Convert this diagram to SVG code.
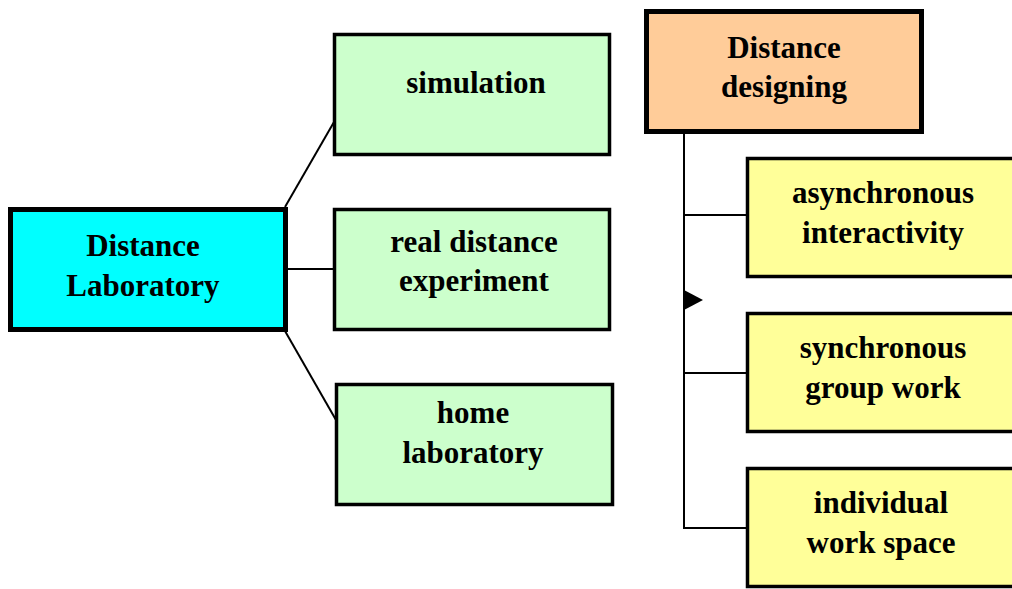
<svg xmlns="http://www.w3.org/2000/svg" width="1012" height="589" viewBox="0 0 1012 589">
<style>
.t{font-family:"Liberation Serif","Times New Roman",serif;font-weight:bold;font-size:31px;fill:#000;text-anchor:middle}
.thick{stroke:#000;stroke-width:5}
.thin{stroke:#000;stroke-width:3.5}
.c{stroke:#000;stroke-width:2;fill:none}
</style>
<rect width="1012" height="589" fill="#fff"/>
<g id="connectors">
<line class="c" x1="285" y1="207" x2="334" y2="122"/>
<line class="c" x1="288" y1="269" x2="334" y2="269"/>
<line class="c" x1="285" y1="331" x2="336" y2="420"/>
<polyline class="c" points="684,134 684,528 746,528"/>
<line class="c" x1="684" y1="215" x2="746" y2="215"/>
<line class="c" x1="684" y1="373" x2="746" y2="373"/>
<polygon points="684,290 703,300 684,310" fill="#000"/>
</g>
<g id="distance-laboratory">
<rect class="thick" x="10.5" y="209.5" width="275" height="120" fill="#00FFFF"/>
<text class="t" x="143" y="256">Distance</text>
<text class="t" x="143" y="296">Laboratory</text>
</g>
<g id="simulation">
<rect class="thin" x="334.5" y="34.5" width="275" height="120" fill="#CCFFCC"/>
<text class="t" x="476" y="93">simulation</text>
</g>
<g id="real-distance-experiment">
<rect class="thin" x="334.5" y="209.5" width="275" height="120" fill="#CCFFCC"/>
<text class="t" x="474" y="252">real distance</text>
<text class="t" x="474" y="291">experiment</text>
</g>
<g id="home-laboratory">
<rect class="thin" x="336.5" y="384.5" width="276" height="120" fill="#CCFFCC"/>
<text class="t" x="473" y="423">home</text>
<text class="t" x="473" y="463">laboratory</text>
</g>
<g id="distance-designing">
<rect class="thick" x="646.5" y="11.5" width="275" height="120" fill="#FFCC99"/>
<text class="t" x="784" y="58">Distance</text>
<text class="t" x="784" y="97">designing</text>
</g>
<g id="asynchronous-interactivity">
<rect class="thin" x="747.5" y="158.5" width="280" height="118" fill="#FFFF99"/>
<text class="t" x="883" y="203">asynchronous</text>
<text class="t" x="883" y="243">interactivity</text>
</g>
<g id="synchronous-group-work">
<rect class="thin" x="747.5" y="313.5" width="280" height="118" fill="#FFFF99"/>
<text class="t" x="883" y="358">synchronous</text>
<text class="t" x="883" y="398">group work</text>
</g>
<g id="individual-work-space">
<rect class="thin" x="747.5" y="468.5" width="280" height="118" fill="#FFFF99"/>
<text class="t" x="881" y="513">individual</text>
<text class="t" x="881" y="553">work space</text>
</g>
</svg>
